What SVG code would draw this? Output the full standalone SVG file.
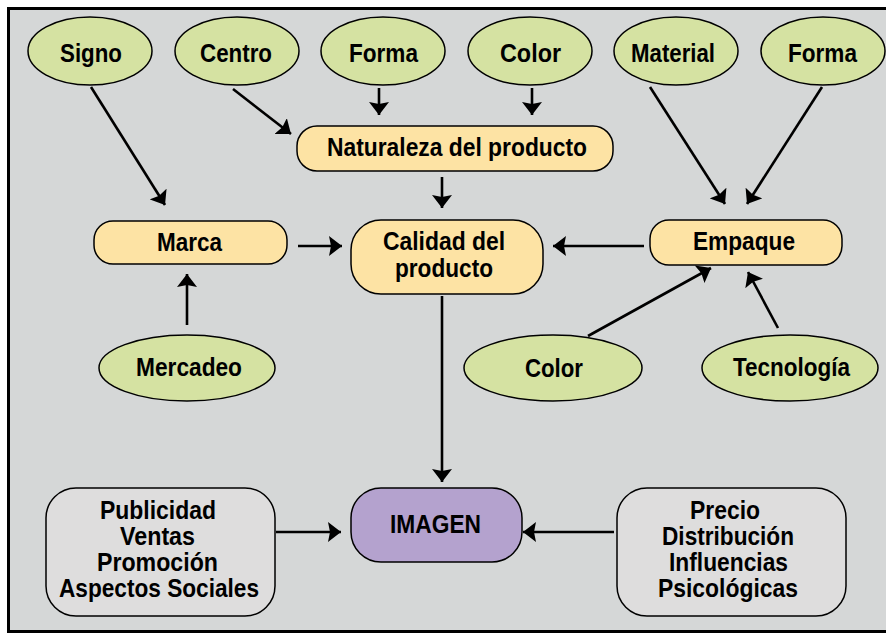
<svg xmlns="http://www.w3.org/2000/svg" width="886" height="634" viewBox="0 0 886 634">
<defs>
<marker id="ah" markerUnits="userSpaceOnUse" markerWidth="14" markerHeight="20" refX="13" refY="10" orient="auto">
<path d="M0,0 L13,10 L0,20 L2,10 z" fill="#000"/>
</marker>
<style>
.el{fill:#d5e2a2;stroke:#000;stroke-width:1.5}
.ob{fill:#fde3a4;stroke:#000;stroke-width:1.5}
.gb{fill:#dedddd;stroke:#000;stroke-width:1.5}
.pb{fill:#b4a2ce;stroke:#000;stroke-width:1.5}
text{font-family:"Liberation Sans",Arial,sans-serif;font-weight:bold;font-size:25px;fill:#000;text-anchor:middle}
.c line{stroke:#000;stroke-width:2.6;marker-end:url(#ah)}
</style>
</defs>
<rect x="0" y="0" width="886" height="634" fill="#fff"/>
<rect x="8.5" y="8.5" width="900" height="623" fill="#d5d7d7" stroke="#000" stroke-width="3"/>

<g id="signo"><ellipse class="el" cx="90" cy="51" rx="62" ry="34"/><text x="91" y="62" textLength="62" lengthAdjust="spacingAndGlyphs">Signo</text></g>
<g id="centro"><ellipse class="el" cx="237" cy="51" rx="62" ry="34"/><text x="236" y="62" textLength="72" lengthAdjust="spacingAndGlyphs">Centro</text></g>
<g id="forma1"><ellipse class="el" cx="383" cy="51" rx="62" ry="34"/><text x="383.5" y="62" textLength="69" lengthAdjust="spacingAndGlyphs">Forma</text></g>
<g id="color1"><ellipse class="el" cx="530" cy="51" rx="62" ry="34"/><text x="530.5" y="62" textLength="61" lengthAdjust="spacingAndGlyphs">Color</text></g>
<g id="material"><ellipse class="el" cx="676" cy="51" rx="62" ry="34"/><text x="673" y="62" textLength="84" lengthAdjust="spacingAndGlyphs">Material</text></g>
<g id="forma2"><ellipse class="el" cx="823" cy="51" rx="62" ry="34"/><text x="822.5" y="62" textLength="69" lengthAdjust="spacingAndGlyphs">Forma</text></g>

<g id="naturaleza"><rect class="ob" x="297" y="126" width="316" height="45" rx="20"/><text x="457" y="156" textLength="260" lengthAdjust="spacingAndGlyphs">Naturaleza del producto</text></g>
<g id="marca"><rect class="ob" x="94" y="221" width="193" height="43" rx="19"/><text x="189.5" y="251" textLength="65" lengthAdjust="spacingAndGlyphs">Marca</text></g>
<g id="calidad"><rect class="ob" x="351" y="220" width="192" height="74" rx="30"/><text x="444" y="250" font-size="24" textLength="122" lengthAdjust="spacingAndGlyphs">Calidad del</text><text x="444" y="277" font-size="24" textLength="98" lengthAdjust="spacingAndGlyphs">producto</text></g>
<g id="empaque"><rect class="ob" x="650" y="220" width="192" height="45" rx="19"/><text x="744" y="250" textLength="102" lengthAdjust="spacingAndGlyphs">Empaque</text></g>

<g id="mercadeo"><ellipse class="el" cx="187" cy="368" rx="88" ry="33"/><text x="189" y="376" textLength="106" lengthAdjust="spacingAndGlyphs">Mercadeo</text></g>
<g id="color2"><ellipse class="el" cx="553" cy="368" rx="89" ry="33"/><text x="554" y="377" textLength="58" lengthAdjust="spacingAndGlyphs">Color</text></g>
<g id="tecnologia"><ellipse class="el" cx="790" cy="368" rx="88" ry="33"/><text x="791.5" y="376" textLength="117" lengthAdjust="spacingAndGlyphs">Tecnología</text></g>

<g id="publicidad"><rect class="gb" x="46" y="488" width="229" height="128" rx="30"/>
<text x="158" y="519" textLength="116" lengthAdjust="spacingAndGlyphs">Publicidad</text>
<text x="157.5" y="545" textLength="75" lengthAdjust="spacingAndGlyphs">Ventas</text>
<text x="157.5" y="571" textLength="121" lengthAdjust="spacingAndGlyphs">Promoción</text>
<text x="159" y="597" textLength="200" lengthAdjust="spacingAndGlyphs">Aspectos Sociales</text></g>
<g id="imagen"><rect class="pb" x="351" y="488" width="171" height="74" rx="30"/><text x="435.5" y="533" textLength="91" lengthAdjust="spacingAndGlyphs">IMAGEN</text></g>
<g id="precio"><rect class="gb" x="617" y="488" width="229" height="128" rx="30"/>
<text x="725" y="519" textLength="70" lengthAdjust="spacingAndGlyphs">Precio</text>
<text x="728" y="545" textLength="132" lengthAdjust="spacingAndGlyphs">Distribución</text>
<text x="728.5" y="571" textLength="119" lengthAdjust="spacingAndGlyphs">Influencias</text>
<text x="728" y="597" textLength="140" lengthAdjust="spacingAndGlyphs">Psicológicas</text></g>

<g id="connectors" class="c">
<line x1="91" y1="87" x2="165" y2="205"/>
<line x1="233" y1="89" x2="291" y2="134"/>
<line x1="379" y1="88" x2="379" y2="115"/>
<line x1="532" y1="88" x2="532" y2="115"/>
<line x1="442" y1="177" x2="442" y2="208"/>
<line x1="298" y1="246" x2="342" y2="246"/>
<line x1="644" y1="246" x2="553" y2="246"/>
<line x1="187" y1="325" x2="187" y2="274"/>
<line x1="650" y1="87" x2="725" y2="204"/>
<line x1="822" y1="87" x2="747" y2="204"/>
<line x1="588" y1="336" x2="711" y2="268"/>
<line x1="778" y1="328" x2="748" y2="272"/>
<line x1="442" y1="296" x2="442" y2="482"/>
<line x1="276" y1="532" x2="341" y2="532"/>
<line x1="614" y1="532" x2="523" y2="532"/>
</g>
</svg>
